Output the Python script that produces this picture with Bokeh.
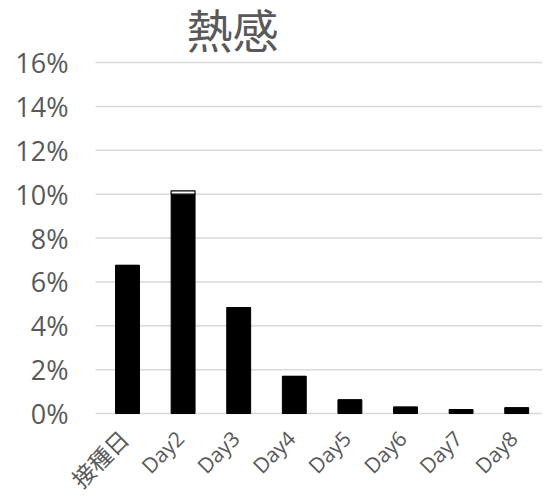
import math
from bokeh.plotting import figure
from bokeh.models import Range1d, ColumnDataSource
from bokeh.core.properties import value
from bokeh.embed import file_html
from bokeh.resources import INLINE

title_text = "熱感"
categories = ["接種日", "Day2", "Day3", "Day4", "Day5", "Day6", "Day7", "Day8"]
values_main = [6.75, 10.0, 4.83, 1.69, 0.62, 0.29, 0.18, 0.26]
values_top = [0.0, 0.15, 0.0, 0.0, 0.0, 0.0, 0.0, 0.0]
y_ticks = [0, 2, 4, 6, 8, 10, 12, 14, 16]
y_tick_labels = ["%d%%" % t for t in y_ticks]

xs = list(range(len(categories)))
tops_stack = [a + b for a, b in zip(values_main, values_top)]

# layout: frame spans the full canvas; scales in px per unit
W, H = 542, 492
PX_X = 55.6
PX_Y = 351 / 16.0
x0 = -127 / PX_X
x1 = x0 + W / PX_X
y_top = 16 + 62 / PX_Y
y_bot = 16 - (H - 62) / PX_Y
grid_x_start = x0 + 95 / PX_X
ylab_x = x0 + 68 / PX_X

p = figure(width=W, height=H, output_backend="svg", toolbar_location=None,
           x_range=Range1d(x0, x1), y_range=Range1d(y_bot, y_top),
           x_axis_location=None, y_axis_location=None)
p.min_border_left = 0
p.min_border_right = 0
p.min_border_top = 0
p.min_border_bottom = 0
p.outline_line_color = None
p.xgrid.grid_line_color = None
p.ygrid.grid_line_color = None
p.background_fill_color = "white"
p.border_fill_color = "white"

# gridlines
p.segment(x0=[grid_x_start] * len(y_ticks), x1=[x1] * len(y_ticks),
          y0=y_ticks, y1=y_ticks, line_color="#d9d9d9", line_width=1.5)

# y tick labels
p.text(x=[ylab_x] * len(y_ticks), y=y_ticks, text=y_tick_labels,
       text_align="right", text_baseline="middle", text_font=value("Open Sans"),
       text_font_size="27px", text_color="#595959")

label_sizes = ["23px" if any(ord(ch) > 127 for ch in c) else "21px" for c in categories]
src = ColumnDataSource(dict(x=xs, top=values_main, top2=tops_stack, bottom2=values_main,
                            names=categories, zero=[0] * len(xs), sizes=label_sizes))
p.vbar(x="x", top="top", bottom=0, width=0.43, source=src,
       fill_color="black", line_color="black", line_width=1)
p.vbar(x="x", top="top2", bottom="bottom2", width=0.43, source=src,
       fill_color="white", line_color="black", line_width=1.2)

# category labels (rotated)
p.text(x="x", y="zero", text="names", source=src, angle=math.pi / 4,
       x_offset=-3, y_offset=21, text_align="right", text_baseline="middle",
       text_font=value("'Open Sans', 'Noto Sans CJK JP'"), text_font_size="sizes",
       text_color="#595959")

# title
title_x = x0 + 232 / PX_X
title_y = 16 + 35 / PX_Y
p.text(x=[title_x], y=[title_y], text=[title_text], text_align="center",
       text_baseline="middle", text_font=value("Noto Sans CJK JP"),
       text_font_size="46px", text_color="#595959")

open("out.html", "w").write(file_html(p, INLINE))
